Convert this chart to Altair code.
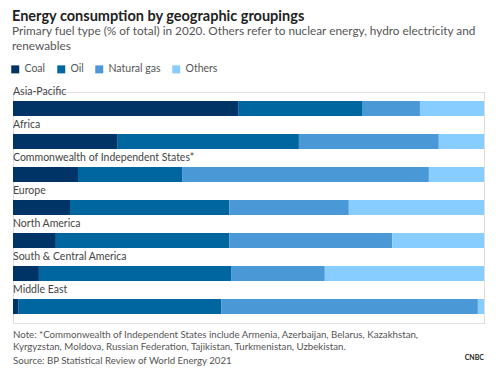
import altair as alt
import pandas as pd

regions = ["Asia-Pacific", "Africa", "Commonwealth of Independent States*", "Europe",
           "North America", "South & Central America", "Middle East"]
fuels = ["Coal", "Oil", "Natural gas", "Others"]
coal = [47.8, 22.1, 13.8, 12.1, 9.1, 5.5, 1.1]
oil = [26.3, 38.6, 22.1, 33.8, 36.8, 40.8, 43.1]
gas = [12.3, 29.7, 52.4, 25.4, 34.6, 19.9, 54.5]
others = [13.6, 9.6, 11.7, 28.7, 19.5, 33.8, 1.3]
colors = ["#003366", "#00669f", "#4a98d6", "#87cdff"]

rows = []
for i, r in enumerate(regions):
    for j, (f, vals) in enumerate(zip(fuels, [coal, oil, gas, others])):
        rows.append({"region": r, "fuel": f, "value": vals[i], "order": j})
df = pd.DataFrame(rows)
labels = pd.DataFrame({"region": regions})
single = pd.DataFrame({"k": [0]})

FONT = "Lato"

yenc = alt.Y("region:N", sort=regions, axis=None,
             scale=alt.Scale(paddingInner=0, paddingOuter=0))

bars = alt.Chart(df).mark_bar(height=15).encode(
    x=alt.X("value:Q", stack="normalize", axis=None, scale=alt.Scale(domain=[0, 1])),
    y=yenc,
    color=alt.Color("fuel:N", sort=fuels,
                    scale=alt.Scale(domain=fuels, range=colors),
                    legend=alt.Legend(title=None, orient="none", legendX=-3, legendY=-28,
                                      direction="horizontal", symbolType="square",
                                      symbolSize=64, symbolStrokeWidth=0,
                                      labelFont=FONT, labelFontSize=10.5, labelColor="#555555",
                                      columnPadding=10, symbolOffset=0, labelOffset=4)),
    order=alt.Order("order:Q"),
)

text = alt.Chart(labels).mark_text(align="left", baseline="middle", dy=-17,
                                   font=FONT, fontSize=10.5, color="#444444").encode(
    x=alt.value(0), y=yenc, text="region:N")

note = alt.Chart(single).mark_text(
    align="left", baseline="middle", font=FONT, fontSize=9.7, color="#555555", lineHeight=12,
    text=["Note: *Commonwealth of Independent States include Armenia, Azerbaijan, Belarus, Kazakhstan,",
          "Kyrgyzstan, Moldova, Russian Federation, Tajikistan, Turkmenistan, Uzbekistan."]
).encode(x=alt.value(0), y=alt.value(243))

source = alt.Chart(single).mark_text(
    align="left", baseline="middle", font=FONT, fontSize=9.7, color="#555555",
    text="Source: BP Statistical Review of World Energy 2021"
).encode(x=alt.value(0), y=alt.value(269))

logo = alt.Chart(single).mark_text(
    align="right", baseline="middle", font=FONT, fontSize=7, fontWeight="bold", color="#222222",
    text="CNBC"
).encode(x=alt.value(471), y=alt.value(266))

chart = alt.layer(bars, text, note, source, logo).properties(
    width=471, height=231,
    padding={"left": 2, "top": 0, "right": 5, "bottom": 0},
    title=alt.TitleParams(
        text="Energy consumption by geographic groupings",
        subtitle=["Primary fuel type (% of total) in 2020. Others refer to nuclear energy, hydro electricity and",
                  "renewables"],
        anchor="start", font=FONT, fontSize=14.5, fontWeight="bold", color="#222222",
        subtitleFont=FONT, subtitleFontSize=11.8, subtitleColor="#555555",
        subtitleLineHeight=15, subtitlePadding=2, offset=10, dx=2),
).configure_view(stroke=None).configure(background="white")

chart.save("out.html", embed_options={"renderer": "svg", "actions": False})
